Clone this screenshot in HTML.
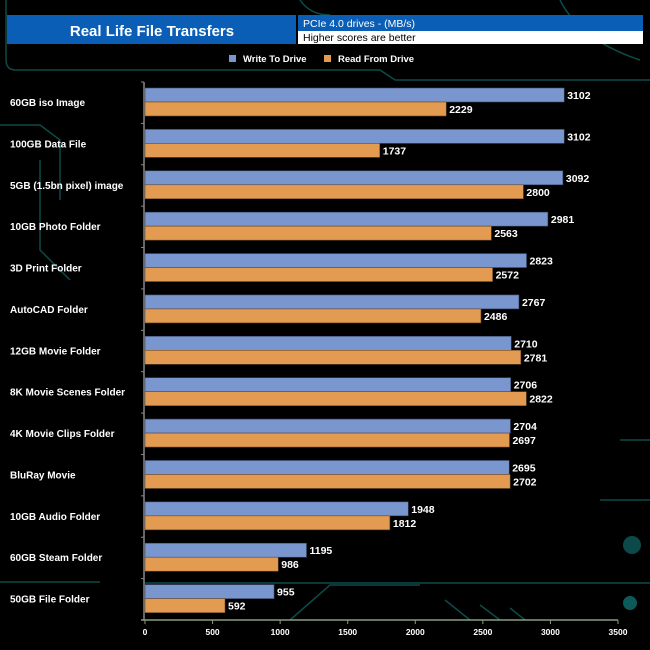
<!DOCTYPE html>
<html><head><meta charset="utf-8"><style>
body{margin:0;background:#000;}
svg{display:block;font-family:"Liberation Sans",sans-serif;}
</style></head><body>
<svg id="c" width="650" height="650" viewBox="0 0 650 650">
<g stroke="#0d4a4a" stroke-width="1.5" fill="none">
<path d="M6 0 V60 Q6 70 16 70 H380 L395 80 H650"/>
<path d="M300 0 Q310 15 330 15"/>
<path d="M0 125 H40 L60 140 V200"/>
<path d="M560 0 Q580 40 640 60"/>
<path d="M145 583 H650"/>
<path d="M100 582 H0"/>
<path d="M290 620 L330 585 H420"/>
<path d="M445 600 L470 620 M480 605 L500 620 M510 608 L525 620"/>
<path d="M620 440 H650 M600 500 H650"/>
<path d="M40 160 V250 L70 280"/>
</g>
<circle cx="630" cy="603" r="7" fill="#0c5a5a"/>
<circle cx="632" cy="545" r="9" fill="#0c4a4a"/>
<rect x="7" y="15" width="289" height="29" fill="#0a5eb5"/>
<text x="152" y="36" fill="#fff" font-size="15" font-weight="bold" text-anchor="middle">Real Life File Transfers</text>
<rect x="298" y="15" width="345" height="16" fill="#0a5eb5"/>
<text x="303" y="27" fill="#fff" font-size="10.5">PCIe 4.0 drives - (MB/s)</text>
<rect x="298" y="31" width="345" height="13" fill="#fff"/>
<text x="303" y="41" fill="#000" font-size="10.5">Higher scores are better</text>
<rect x="229" y="55" width="7" height="7" fill="#7a96cf"/>
<text x="243" y="62" fill="#fff" font-size="9.5" font-weight="bold">Write To  Drive</text>
<rect x="324" y="55" width="7" height="7" fill="#e39a51"/>
<text x="338" y="62" fill="#fff" font-size="9.5" font-weight="bold">Read From  Drive</text>
<g id="plot"></g>
</svg>
<script>
const categories=["60GB iso Image","100GB Data File","5GB (1.5bn pixel) image","10GB Photo Folder","3D Print Folder","AutoCAD Folder","12GB Movie Folder","8K Movie Scenes Folder","4K Movie Clips Folder","BluRay Movie","10GB Audio Folder","60GB Steam Folder","50GB File Folder"];
const writeValues=[3102,3102,3092,2981,2823,2767,2710,2706,2704,2695,1948,1195,955];
const readValues=[2229,1737,2800,2563,2572,2486,2781,2822,2697,2702,1812,986,592];
const xTicks=[0,500,1000,1500,2000,2500,3000,3500];
const NS="http://www.w3.org/2000/svg";
const g=document.getElementById('plot');
const x0=145,x1=618,xMax=3500,yTop=82,yBot=620;
const xs=v=>x0+(v/xMax)*(x1-x0);
const step=(yBot-yTop)/categories.length;
function mk(t,a){const e=document.createElementNS(NS,t);for(const k in a)e.setAttribute(k,a[k]);g.appendChild(e);return e;}
// y axis
let ya=mk('line',{x1:x0-1,y1:yTop,x2:x0-1,y2:yBot,stroke:'#888','stroke-width':1.5});


categories.forEach((c,i)=>{
  const yc=yTop+step*i;
  const tk=mk('line',{x1:x0-4,y1:yc,x2:x0-1,y2:yc,stroke:'#888'});
  
  
  const by=yc+6;
  const bw=mk('rect',{x:x0,y:by,width:xs(writeValues[i])-x0,height:14,fill:'#7a96cf',stroke:'#3a4a6a','stroke-width':0.6});
  
  
  const br=mk('rect',{x:x0,y:by+14,width:xs(readValues[i])-x0,height:14,fill:'#e39a51',stroke:'#6a4a2a','stroke-width':0.6});
  
  
  const tw=mk('text',{x:xs(writeValues[i])+3,y:by+11,fill:'#fff','font-size':10.5,'font-weight':'bold'});
  tw.textContent=writeValues[i];
  
  
  const tr=mk('text',{x:xs(readValues[i])+3,y:by+25,fill:'#fff','font-size':10.5,'font-weight':'bold'});
  tr.textContent=readValues[i];
  
  
  const cl=mk('text',{x:10,y:by+18,fill:'#fff','font-size':10,'font-weight':'bold'});
  cl.textContent=c;
  
  
});
let xa=mk('line',{x1:x0-4,y1:yBot,x2:x1,y2:yBot,stroke:'#8a9e7a','stroke-width':1.5});


xTicks.forEach(v=>{
  const t=mk('line',{x1:xs(v),y1:yBot,x2:xs(v),y2:yBot+4,stroke:'#8a9e7a'});
  
  
  const l=mk('text',{x:xs(v),y:yBot+15,fill:'#fff','font-size':8.5,'font-weight':'bold','text-anchor':'middle'});
  l.textContent=v;
  
  
});
</script>
</body></html>
